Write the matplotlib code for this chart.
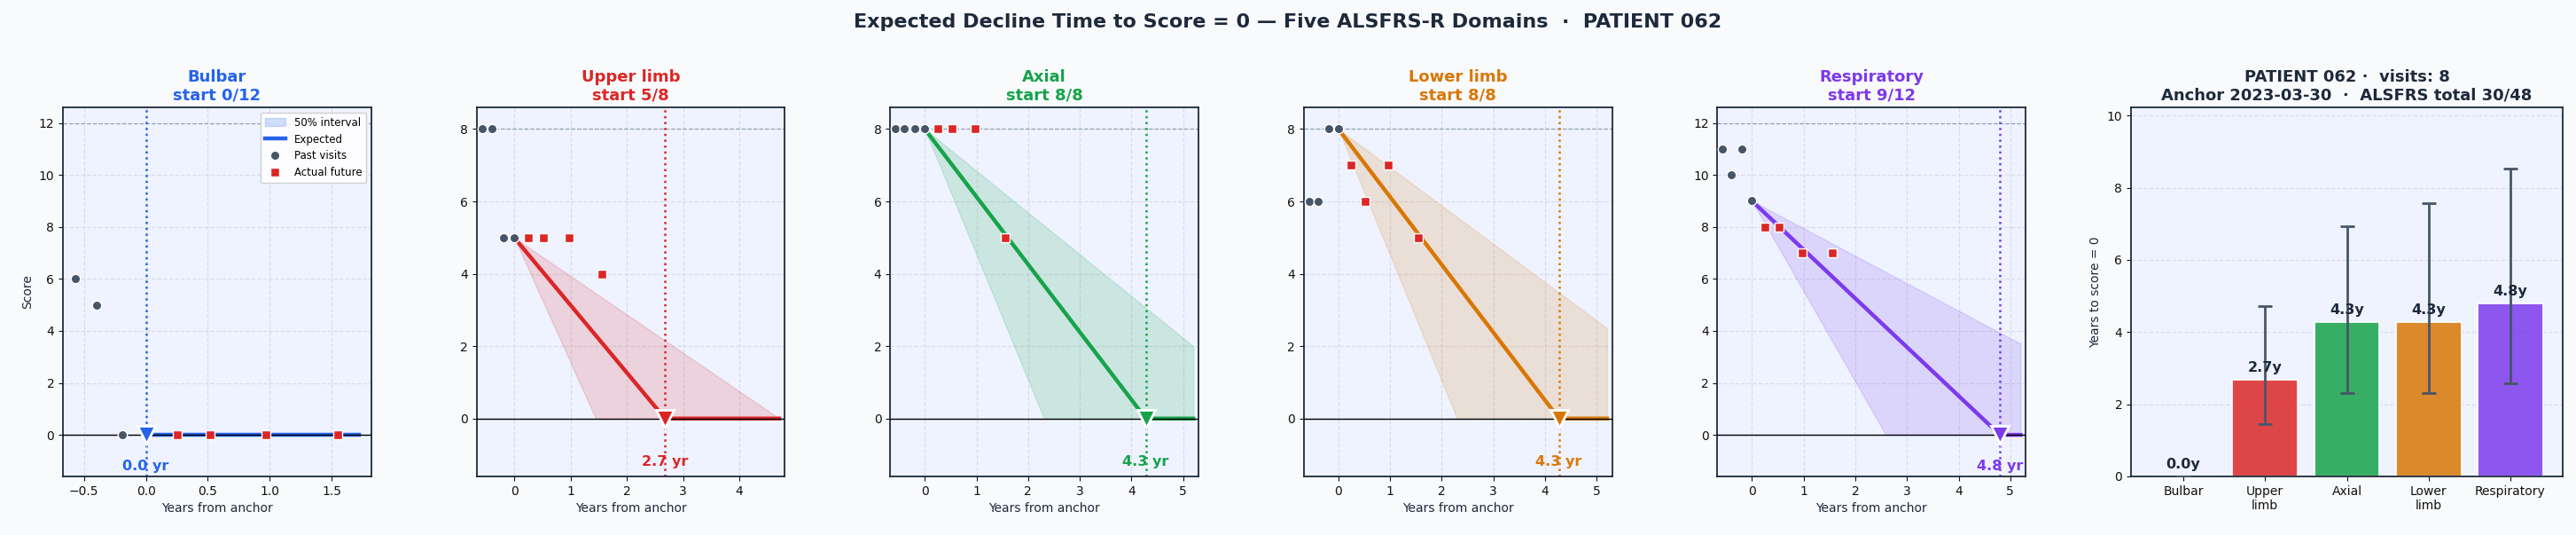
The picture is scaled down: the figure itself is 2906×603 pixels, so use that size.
import numpy as np
import matplotlib
matplotlib.use("Agg")
import matplotlib.pyplot as plt
from matplotlib.patches import Patch
from matplotlib.lines import Line2D

# domains and their colours
domains = ["Bulbar", "Upper limb", "Axial", "Lower limb", "Respiratory"]
bar_labels = ["Bulbar", "Upper\nlimb", "Axial", "Lower\nlimb", "Respiratory"]
colors = ["#2563eb", "#dc2626", "#16a34a", "#d97706", "#7c3aed"]
max_score = [12, 8, 8, 8, 12]

# visits (years from anchor)
past_t = [-0.57, -0.40, -0.19, 0.0]
future_t = [0.25, 0.52, 0.97, 1.55]
past_scores = [
    [6, 5, 0, 0],
    [8, 8, 5, 5],
    [8, 8, 8, 8],
    [6, 6, 8, 8],
    [11, 10, 11, 9],
]
future_scores = [
    [0, 0, 0, 0],
    [5, 5, 5, 4],
    [8, 8, 8, 5],
    [7, 6, 7, 5],
    [8, 8, 7, 7],
]

# expected time to zero and 50% interval (years)
t_zero = [0.0, 2.68, 4.28, 4.27, 4.80]
t_lo = [0.0, 1.45, 2.31, 2.30, 2.59]
t_hi = [0.0, 4.71, 6.93, 7.56, 8.52]
t_end = [1.72, 4.71, 5.2, 5.2, 5.2]

patient = "062"
n_visits = 8
anchor_date = "2023-03-30"
total, total_max = 30, 48

DARK = "#1e293b"
PAST = "#475569"
FUT = "#dc2626"
AX_BG = "#eef3ff"
FIG_BG = "#f8fafc"


def decline(s0, tz, t):
    # straight line from s0 at t=0 down to 0 at tz, flat afterwards
    if tz <= 0:
        return np.zeros_like(t)
    return np.interp(t, [0, tz, 1e9], [s0, 0, 0])


fig = plt.figure(figsize=(29.06, 6.03), dpi=100, facecolor=FIG_BG)
gs = fig.add_gridspec(1, 6, left=0.02443, right=0.99484, bottom=0.1095, top=0.7993,
                      width_ratios=[1, 1, 1, 1, 1, 1.4], wspace=0.32)

for i, name in enumerate(domains):
    ax = fig.add_subplot(gs[0, i])
    ax.set_facecolor(AX_BG)
    c = colors[i]
    s0 = past_scores[i][-1]

    t = np.linspace(0, t_end[i], 400)
    lo = decline(s0, t_lo[i], t)
    hi = decline(s0, t_hi[i], t)
    ex = decline(s0, t_zero[i], t)

    ax.axhline(max_score[i], color="#94a3b8", lw=0.9, ls="--", zorder=1.4)
    ax.fill_between(t, lo, hi, color=c, alpha=0.16, lw=1, zorder=2)
    ax.plot(t, ex, color=c, lw=3.2, zorder=3)
    ax.axhline(0, color="black", lw=1.0, zorder=3.5)
    ax.axvline(t_zero[i], color=c, lw=1.8, ls=":", zorder=2.5)
    ax.plot([t_zero[i]], [0], marker="v", ms=14, color=c, mec="white", mew=2, zorder=6)

    ax.plot(past_t, past_scores[i], "o", ms=7.5, color=PAST, mec="white", mew=1, zorder=5)
    ax.plot(future_t, future_scores[i], "s", ms=7.5, color=FUT, mec="white", mew=1, zorder=5)

    ax.text(t_zero[i], -1.2, f"{t_zero[i]:.1f} yr", color=c, fontsize=11.5,
            fontweight="bold", ha="center", va="center", zorder=7)

    ax.set_xlim(-0.67, t_end[i] + 0.1)
    ax.set_ylim(-1.6, max_score[i] + 0.6)
    ax.grid(True, ls="--", lw=0.9, color="#d4d8e4", alpha=0.8)
    ax.set_axisbelow(True)
    ax.set_title(f"{name}\nstart {s0}/{max_score[i]}", color=c, fontsize=13,
                 fontweight="bold")
    ax.set_xlabel("Years from anchor", fontsize=10, color=DARK)
    ax.tick_params(labelsize=10, colors="#111111")
    for sp in ax.spines.values():
        sp.set_color(DARK)
        sp.set_linewidth(1.3)
    if i == 0:
        ax.set_ylabel("Score", fontsize=10, color=DARK)
        handles = [
            Patch(facecolor=c, alpha=0.2, edgecolor=c, label="50% interval"),
            Line2D([], [], color=c, lw=3.2, label="Expected"),
            Line2D([], [], marker="o", ls="", ms=7.5, color=PAST, mec="white", label="Past visits"),
            Line2D([], [], marker="s", ls="", ms=7.5, color=FUT, mec="white", label="Actual future"),
        ]
        ax.legend(handles=handles, loc="upper right", fontsize=8.5, framealpha=0.9,
                  edgecolor="#cccccc")

# summary bar chart
ax = fig.add_subplot(gs[0, 5])
ax.set_facecolor(AX_BG)
x = np.arange(len(domains))
yerr = [np.array(t_zero) - np.array(t_lo), np.array(t_hi) - np.array(t_zero)]
ax.bar(x, t_zero, width=0.8, color=colors, alpha=0.85, edgecolor="white", lw=1.5, zorder=2)
ax.errorbar(x, t_zero, yerr=yerr, fmt="none", ecolor=PAST, elinewidth=2,
            capsize=6, capthick=2, zorder=3)
for xi, v in zip(x, t_zero):
    ax.text(xi, v + 0.15, f"{v:.1f}y", ha="center", va="bottom", fontsize=11.5,
            fontweight="bold", color=DARK, zorder=4)
ax.set_xticks(x)
ax.set_xticklabels(bar_labels)
ax.set_ylim(0, max(t_hi) * 1.2)
ax.set_ylabel("Years to score = 0", fontsize=10, color=DARK)
ax.grid(True, axis="y", ls="--", lw=0.9, color="#d4d8e4", alpha=0.8)
ax.set_axisbelow(True)
ax.tick_params(labelsize=10, colors="#111111")
for sp in ax.spines.values():
    sp.set_color(DARK)
    sp.set_linewidth(1.3)
ax.set_title(f"PATIENT {patient} \u00b7  visits: {n_visits}\n"
             f"Anchor {anchor_date}  \u00b7  ALSFRS total {total}/{total_max}",
             fontsize=13, fontweight="bold", color=DARK)

fig.suptitle(f"Expected Decline Time to Score = 0 \u2014 Five ALSFRS-R Domains  \u00b7  PATIENT {patient}",
             fontsize=16, fontweight="bold", color=DARK, y=0.959, va="center")

fig.savefig("out.png", dpi=100, facecolor=FIG_BG)
